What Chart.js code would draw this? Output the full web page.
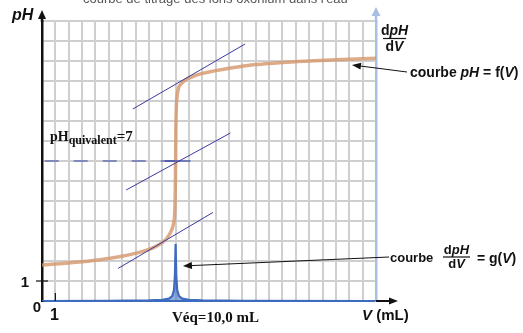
<!DOCTYPE html>
<html>
<head>
<meta charset="utf-8">
<script src="https://cdn.jsdelivr.net/npm/chart.js@4/dist/chart.umd.min.js"></script>
<style>
  html, body { margin: 0; padding: 0; background: #fff; }
  #wrap { width: 523px; height: 333px; }
</style>
</head>
<body>
<div id="wrap"><canvas id="chart" width="523" height="333"></canvas></div>
<script>
// courbe pH = f(V)
const phV   = [0, 1, 2, 3, 4, 5, 6, 7, 8, 8.5, 9, 9.3, 9.6, 9.8, 9.9, 9.95, 9.98, 10.0, 10.02, 10.05, 10.1, 10.2, 10.4, 10.8, 11.2, 12, 13, 14, 15, 16, 17, 18, 20, 22, 25];
const phVal = [1.80, 1.85, 1.90, 1.96, 2.04, 2.13, 2.24, 2.38, 2.58, 2.72, 2.92, 3.10, 3.40, 3.75, 4.10, 4.70, 5.80, 7.0, 8.6, 9.6, 10.15, 10.6, 10.85, 11.08, 11.2, 11.38, 11.52, 11.64, 11.74, 11.82, 11.88, 11.93, 12.0, 12.06, 12.14];

// courbe dpH/dV = g(V)
const dV   = [0, 5, 8, 9, 9.5, 9.75, 9.88, 9.95, 10, 10.05, 10.12, 10.25, 10.5, 11, 12, 15, 25];
const dVal = [0, 0.01, 0.03, 0.06, 0.12, 0.25, 0.55, 1.3, 2.85, 1.3, 0.55, 0.25, 0.12, 0.06, 0.03, 0.01, 0];

// tangentes paralleles
const tanHighV = [6.8, 15.2], tanHighPH = [9.6, 12.85];
const tanMidV  = [6.3, 14.1], tanMidPH  = [5.55, 8.4];
const tanLowV  = [5.7, 12.8], tanLowPH  = [1.63, 4.43];

// point d'equivalence
const eqLineV = [0.2, 11.1], eqLinePH = [7, 7];
const eqMarkV = [9.2, 11.1], eqMarkPH = [7, 7];

// graduations
const xTicks = [0, 1, 2, 3, 4, 5, 6, 7, 8, 9, 10, 11, 12, 13, 14, 15, 16, 17, 18, 19, 20, 21, 22, 23, 24, 25];
const yTicks = [0, 1, 2, 3, 4, 5, 6, 7, 8, 9, 10, 11, 12, 13, 14];

const pts = (xs, ys) => xs.map((x, i) => ({ x, y: ys[i] }));

const SANS = '"Liberation Sans", Arial, sans-serif';
const SERIF = '"Liberation Serif", "Times New Roman", serif';

function runs(ctx, x, y, parts) {
  ctx.textAlign = 'left';
  ctx.textBaseline = 'alphabetic';
  for (const [txt, font] of parts) {
    ctx.font = font;
    ctx.fillText(txt, x, y);
    x += ctx.measureText(txt).width;
  }
  return x;
}

function widthOf(ctx, parts) {
  let w = 0;
  for (const [txt, font] of parts) { ctx.font = font; w += ctx.measureText(txt).width; }
  return w;
}

function arrowHead(ctx, tx, ty, fx, fy, len, half, color) {
  const a = Math.atan2(ty - fy, tx - fx);
  ctx.fillStyle = color;
  ctx.beginPath();
  ctx.moveTo(tx, ty);
  ctx.lineTo(tx - len * Math.cos(a) + half * Math.sin(a), ty - len * Math.sin(a) - half * Math.cos(a));
  ctx.lineTo(tx - len * Math.cos(a) - half * Math.sin(a), ty - len * Math.sin(a) + half * Math.cos(a));
  ctx.closePath();
  ctx.fill();
}

function line(ctx, x1, y1, x2, y2, color, w) {
  ctx.strokeStyle = color;
  ctx.lineWidth = w;
  ctx.beginPath();
  ctx.moveTo(x1, y1);
  ctx.lineTo(x2, y2);
  ctx.stroke();
}

function fraction(ctx, cx, yNum, yBar, yDen, num, den, barW) {
  const wn = widthOf(ctx, num), wd = widthOf(ctx, den);
  ctx.fillStyle = '#111';
  runs(ctx, cx - wn / 2, yNum, num);
  runs(ctx, cx - wd / 2, yDen, den);
  line(ctx, cx - barW / 2, yBar, cx + barW / 2, yBar, '#111', 1.2);
}

const labels = {
  id: 'labels',
  afterDraw(chart) {
    const { ctx, chartArea: a, scales: { x, y } } = chart;
    const B14 = 'bold 14px ' + SANS, BI14 = 'italic bold 14px ' + SANS;
    const B13 = 'bold 13px ' + SANS, BI13 = 'italic bold 13px ' + SANS;
    ctx.save();

    // titre (coupe en haut)
    ctx.fillStyle = '#555';
    ctx.font = '13px ' + SANS;
    ctx.fillText("courbe de titrage des ions oxonium dans l'eau", 83, 3);

    // axe pH : prolongement + fleche
    line(ctx, a.left, a.top + 1, a.left, 18, '#111', 2.5);
    arrowHead(ctx, a.left, 10, a.left, 30, 9, 4, '#111');
    // axe dpH/dV : prolongement + fleche
    line(ctx, a.right, a.top + 1, a.right, 15, '#a9bfe4', 2.5);
    arrowHead(ctx, a.right, 7, a.right, 30, 9, 4.5, '#a9bfe4');
    // axe V : prolongement + fleche
    line(ctx, a.right, a.bottom, a.right + 14, a.bottom, '#111', 2);
    arrowHead(ctx, a.right + 22, a.bottom, a.right, a.bottom, 9, 3.5, '#111');

    // graduations
    const y1 = y.getPixelForValue(1), x1 = x.getPixelForValue(1);
    line(ctx, a.left - 6, y1, a.left + 6, y1, '#111', 1.2);
    line(ctx, x1, a.bottom - 8, x1, a.bottom, '#111', 1.2);
    ctx.fillStyle = '#111';
    ctx.font = 'bold 15px ' + SANS;
    ctx.textAlign = 'right';
    ctx.fillText('1', 29, y1 + 6);
    ctx.fillText('0', 41, 312);
    ctx.textAlign = 'center';
    ctx.font = 'bold 16px ' + SANS;
    ctx.fillText('1', x1 - 1, 320);

    // titres des axes
    runs(ctx, 12, 20, [['pH', 'italic bold 16px ' + SANS]]);
    runs(ctx, 362, 320, [['V', 'italic bold 15px ' + SANS], [' (mL)', 'bold 15px ' + SANS]]);
    fraction(ctx, 394.5, 35, 38.5, 51, [['d', B14], ['pH', BI14]], [['d', B14], ['V', BI14]], 23);

    // annotation pH = f(V)
    ctx.fillStyle = '#111';
    runs(ctx, 410, 77, [['courbe ', B14], ['pH', BI14], [' = f(', B14], ['V', BI14], [')', B14]]);
    const fx = x.getPixelForValue(23.2), fy = y.getPixelForValue(11.8);
    line(ctx, 407, 72, fx + 6, fy + 0.7, '#111', 1);
    arrowHead(ctx, fx, fy, 407, 72, 9, 3.5, '#111');

    // annotation dpH/dV = g(V)
    const gx = x.getPixelForValue(10.55), gy = y.getPixelForValue(1.75);
    line(ctx, 389, 257, gx + 6, gy - 0.3, '#111', 1);
    arrowHead(ctx, gx, gy, 389, 257, 9, 3.5, '#111');
    ctx.fillStyle = '#111';
    runs(ctx, 390, 262, [['courbe', B13]]);
    fraction(ctx, 456.5, 254, 257, 268, [['d', B13], ['pH', BI13]], [['d', B13], ['V', BI13]], 27);
    ctx.fillStyle = '#111';
    runs(ctx, 477, 263, [['= g(', B14], ['V', BI14], [')', B14]]);

    // equivalence
    ctx.fillStyle = '#111';
    const sub = runs(ctx, 50, 141, [['pH', 'bold 14px ' + SERIF]]);
    const eq = runs(ctx, sub, 143.5, [['quivalent', 'bold 12px ' + SERIF]]);
    runs(ctx, eq, 141, [['=7', 'bold 15px ' + SERIF]]);
    runs(ctx, 172, 322, [['Véq=10,0 mL', 'bold 15px ' + SERIF]]);

    ctx.restore();
  }
};

const TAN = '#3a3aa0';

new Chart(document.getElementById('chart'), {
  type: 'line',
  data: {
    datasets: [
      {
        label: 'pH = f(V)',
        data: pts(phV, phVal),
        borderColor: 'rgba(214,150,108,0.8)',
        borderWidth: 3.5,
        pointRadius: 0,
        cubicInterpolationMode: 'monotone',
        fill: false,
        order: 1,
      },
      {
        label: 'dpH/dV = g(V)',
        data: pts(dV, dVal),
        yAxisID: 'y2',
        borderColor: '#3d6cbf',
        backgroundColor: 'rgba(61,108,191,0.55)',
        borderWidth: 2.2,
        pointRadius: 0,
        tension: 0,
        fill: 'origin',
        order: 2,
      },
      { data: pts(tanHighV, tanHighPH), borderColor: TAN, borderWidth: 1, pointRadius: 0, order: 0 },
      { data: pts(tanMidV, tanMidPH), borderColor: TAN, borderWidth: 1, pointRadius: 0, order: 0 },
      { data: pts(tanLowV, tanLowPH), borderColor: TAN, borderWidth: 1, pointRadius: 0, order: 0 },
      { data: pts(eqLineV, eqLinePH), borderColor: '#3445a8', borderWidth: 1.2, borderDash: [14, 15], pointRadius: 0, order: 0 },
      { data: pts(eqMarkV, eqMarkPH), borderColor: '#3445a8', borderWidth: 1.2, pointRadius: 0, order: 0 },
    ],
  },
  options: {
    responsive: false,
    animation: false,
    events: [],
    layout: { padding: { left: 42, right: 147, top: 21, bottom: 32 } },
    plugins: { legend: { display: false }, tooltip: { enabled: false } },
    scales: {
      x: {
        type: 'linear', min: 0, max: 25,
        afterBuildTicks: s => { s.ticks = xTicks.map(v => ({ value: v })); },
        ticks: { display: false },
        grid: { color: '#cfcfcf', lineWidth: 2, drawTicks: false },
        border: { color: '#3d6cbf', width: 2 },
      },
      y: {
        type: 'linear', min: 0, max: 14,
        afterBuildTicks: s => { s.ticks = yTicks.map(v => ({ value: v })); },
        ticks: { display: false },
        grid: { color: '#cfcfcf', lineWidth: 2, drawTicks: false },
        border: { color: '#111', width: 2.5 },
      },
      y2: {
        type: 'linear', position: 'right', min: 0, max: 14,
        ticks: { display: false },
        grid: { display: false, drawTicks: false },
        border: { color: '#a9bfe4', width: 2.5 },
      },
    },
  },
  plugins: [labels],
});
</script>
</body>
</html>
